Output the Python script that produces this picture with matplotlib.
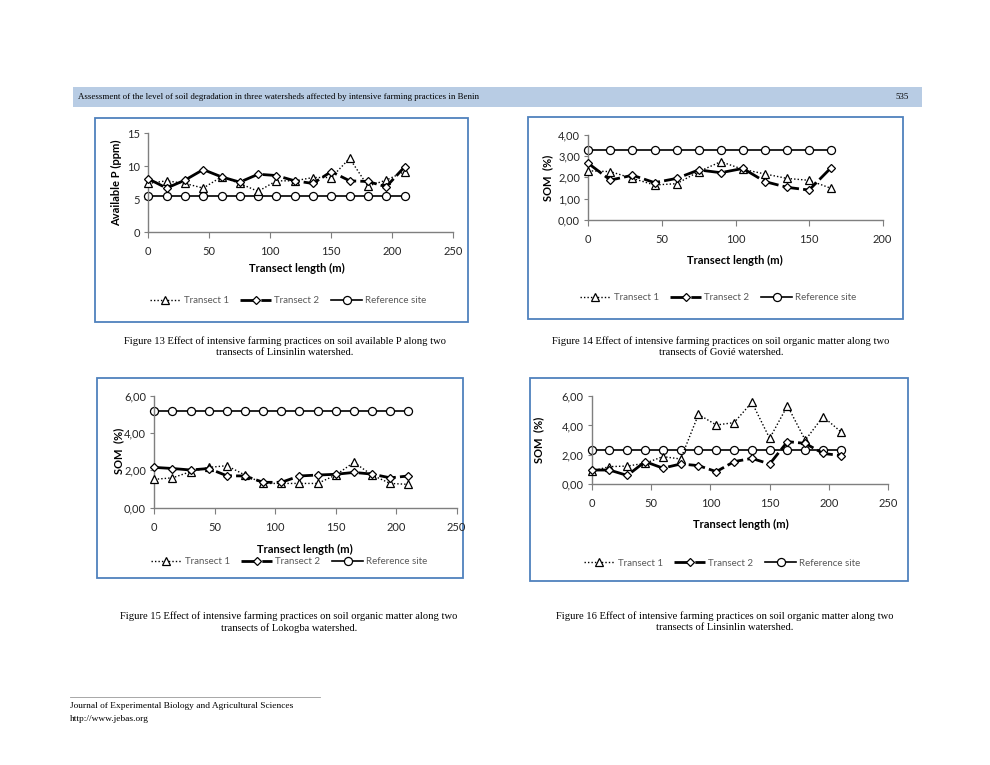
import numpy as np
import matplotlib
matplotlib.use("Agg")
import matplotlib.pyplot as plt
from matplotlib.patches import Rectangle
from matplotlib.lines import Line2D
from matplotlib.ticker import FuncFormatter

# ---- data ----
x_linsinlin = list(range(0, 211, 15))
p_t1 = [7.4, 7.8, 7.4, 6.7, 8.4, 7.4, 6.2, 7.8, 7.8, 8.3, 8.3, 11.2, 7.0, 7.9, 9.2]
p_t2 = [8.1, 6.7, 7.9, 9.5, 8.4, 7.6, 8.8, 8.6, 7.8, 7.4, 9.2, 7.8, 7.7, 6.9, 9.9]
p_ref = [5.5] * 15

x_govie = list(range(0, 166, 15))
som_g_t1 = [2.31, 2.27, 1.95, 1.64, 1.70, 2.27, 2.74, 2.38, 2.16, 1.95, 1.86, 1.48]
som_g_t2 = [2.66, 1.87, 2.10, 1.75, 1.95, 2.35, 2.22, 2.42, 1.80, 1.53, 1.40, 2.46]
som_g_ref = [3.30] * 12

x_lokogba = list(range(0, 211, 15))
som_lo_t1 = [1.52, 1.60, 1.93, 2.16, 2.25, 1.75, 1.30, 1.30, 1.30, 1.30, 1.75, 2.43, 1.75, 1.30, 1.25]
som_lo_t2 = [2.16, 2.10, 2.02, 2.10, 1.71, 1.70, 1.36, 1.36, 1.70, 1.75, 1.79, 1.89, 1.80, 1.60, 1.70]
som_lo_ref = [5.20] * 15

x_lin2 = list(range(0, 211, 15))
som_li_t1 = [0.90, 1.20, 1.24, 1.43, 1.88, 1.72, 4.75, 4.03, 4.19, 5.57, 3.12, 5.34, 3.00, 4.60, 3.57]
som_li_t2 = [0.97, 0.97, 0.60, 1.54, 1.10, 1.38, 1.27, 0.86, 1.54, 1.76, 1.38, 2.90, 2.78, 2.10, 1.95]
som_li_ref = [2.30] * 15

series_names = ["Transect 1", "Transect 2", "Reference site"]

W, H = 990, 765
fig = plt.figure(figsize=(W / 100, H / 100), dpi=100)
fig.patch.set_facecolor("white")

def rect(l, t, r, b):
    return [l / W, 1 - b / H, (r - l) / W, (b - t) / H]

sans = ["Lato", "DejaVu Sans"]
serif = ["Liberation Serif", "DejaVu Serif"]

# header band
fig.add_artist(Rectangle((73 / W, 1 - 107 / H), (922 - 73) / W, 20 / H,
                         transform=fig.transFigure, facecolor="#b8cce4", edgecolor="none",
                         zorder=-5))
fig.text(78 / W, 1 - 97 / H,
         "Assessment of the level of soil degradation in three watersheds affected by intensive farming practices in Benin",
         fontsize=6.4, family=serif, va="center", ha="left")
fig.text(909 / W, 1 - 97 / H, "535", fontsize=6.4, family=serif, va="center", ha="right")

comma = FuncFormatter(lambda v, p: f"{v:.2f}".replace(".", ","))

def style1():
    return dict(color="black", lw=1.0, linestyle=(0, (1, 1.5)), marker="^", ms=5.8,
                mfc="white", mec="black", mew=0.9)

def style2():
    return dict(color="black", lw=2.0, linestyle=(0, (6, 1.5)), marker="D", ms=4.5,
                mfc="white", mec="black", mew=0.9)

def style3():
    return dict(color="black", lw=1.2, linestyle="-", marker="o", ms=5.8,
                mfc="white", mec="black", mew=0.9)

def panel(box, axpos, x, t1, t2, ref, xmax, ymax, ystep, yfmt, ylabel,
          ylab_pos, xlab_pos, leg_pos, caption, cap_pos):
    bl, bt, br, bb = box
    fig.add_artist(Rectangle((bl / W, 1 - bb / H), (br - bl) / W, (bb - bt) / H,
                             transform=fig.transFigure, facecolor="none",
                             edgecolor="#4f81bd", lw=1.3, zorder=-5))
    ax = fig.add_axes(rect(*axpos))
    ax.set_facecolor("none")
    ax.plot(x, t1, clip_on=False, zorder=3, label=series_names[0], **style1())
    ax.plot(x, t2, clip_on=False, zorder=4, label=series_names[1], **style2())
    ax.plot(x, ref, clip_on=False, zorder=2, label=series_names[2], **style3())
    ax.set_xlim(0, xmax)
    ax.set_ylim(0, ymax)
    ax.set_xticks(np.arange(0, xmax + 1, 50))
    ax.set_yticks(np.arange(0, ymax + 0.001, ystep))
    if yfmt is not None:
        ax.yaxis.set_major_formatter(yfmt)
    for s in ["top", "right"]:
        ax.spines[s].set_visible(False)
    for s in ["left", "bottom"]:
        ax.spines[s].set_color("#7f7f7f")
        ax.spines[s].set_linewidth(1.0)
    ax.tick_params(direction="out", width=0.8, color="#7f7f7f",
                   labelsize=8, labelcolor="#262626")
    ax.tick_params(axis="x", length=4, pad=6)
    ax.tick_params(axis="y", length=3, pad=3)
    for lab in ax.get_xticklabels() + ax.get_yticklabels():
        lab.set_family(sans)
    fig.text(ylab_pos[0] / W, 1 - ylab_pos[1] / H, ylabel, rotation=90, fontsize=8,
             fontweight="bold", family=sans, ha="center", va="center")
    fig.text(xlab_pos[0] / W, 1 - xlab_pos[1] / H, "Transect length (m)", fontsize=8,
             fontweight="bold", family=sans, ha="center", va="center")
    leg = ax.legend(loc="center", bbox_to_anchor=(leg_pos[0] / W, 1 - leg_pos[1] / H),
                    bbox_transform=fig.transFigure, ncol=3, frameon=False,
                    fontsize=7, handlelength=3.2, columnspacing=1.2, handletextpad=0.3)
    for t in leg.get_texts():
        t.set_color("#595959")
        t.set_family(sans)
    fig.text(cap_pos[0] / W, 1 - cap_pos[1] / H, caption, fontsize=7.6, family=serif,
             ha="center", va="top", linespacing=1.3)
    return ax

panel((95, 118, 468, 322), (148.3, 133.3, 453.3, 232.3), x_linsinlin, p_t1, p_t2, p_ref,
      250, 15, 5, None, "Available P (ppm)", (117, 183), (297, 268), (288, 301),
      "Figure 13 Effect of intensive farming practices on soil available P along two\ntransects of Linsinlin watershed.",
      (285, 336))

panel((528, 117, 903, 319), (588.3, 135, 882.7, 219.7), x_govie, som_g_t1, som_g_t2, som_g_ref,
      200, 4, 1, comma, "SOM  (%)", (548, 178), (735, 260), (718, 298),
      "Figure 14 Effect of intensive farming practices on soil organic matter along two\ntransects of Govi\u00e9 watershed.",
      (721, 336))

panel((97, 378, 463, 578), (154.3, 395.7, 456.7, 507.7), x_lokogba, som_lo_t1, som_lo_t2, som_lo_ref,
      250, 6, 2, comma, "SOM  (%)", (119, 451), (305, 549), (289, 562),
      "Figure 15 Effect of intensive farming practices on soil organic matter along two\ntransects of Lokogba watershed.",
      (289, 611))

panel((530, 378, 908, 581), (591.7, 396, 888.3, 484.3), x_lin2, som_li_t1, som_li_t2, som_li_ref,
      250, 6, 2, comma, "SOM  (%)", (539, 440), (741, 524), (722, 563),
      "Figure 16 Effect of intensive farming practices on soil organic matter along two\ntransects of Linsinlin watershed.",
      (725, 611))

# footer
fig.add_artist(Line2D([70 / W, 320 / W], [1 - 697 / H, 1 - 697 / H],
                      transform=fig.transFigure, color="#999999", lw=0.6))
fig.text(70 / W, 1 - 706 / H, "Journal of Experimental Biology and Agricultural Sciences",
         fontsize=6.75, family=serif, va="center", ha="left")
fig.text(70 / W, 1 - 719 / H, "http://www.jebas.org", fontsize=6.75, family=serif,
         va="center", ha="left")

fig.savefig("out.png", dpi=100)
